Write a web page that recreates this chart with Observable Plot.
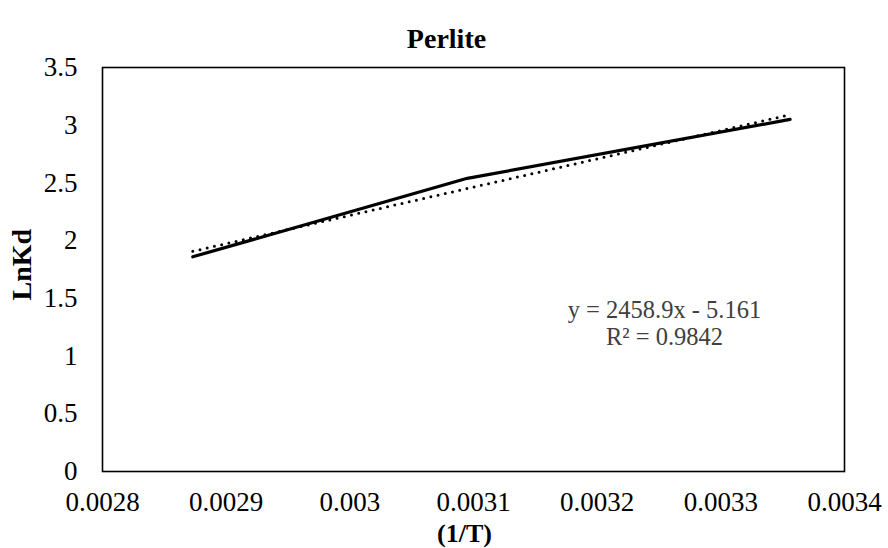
<!DOCTYPE html>
<html>
<head>
<meta charset="utf-8">
<script src="https://cdn.jsdelivr.net/npm/d3@7"></script>
<script src="https://cdn.jsdelivr.net/npm/@observablehq/plot@0.6"></script>
<style>
  html, body { margin: 0; padding: 0; background: #fff; }
</style>
</head>
<body>
<div id="chart"></div>
<script>
// Data
const invT = [0.002873, 0.003095, 0.003356];
const lnKd = [1.86, 2.54, 3.05];
const xTicks = [0.0028, 0.0029, 0.003, 0.0031, 0.0032, 0.0033, 0.0034];
const xTickLabels = ["0.0028", "0.0029", "0.003", "0.0031", "0.0032", "0.0033", "0.0034"];
const yTicks = [0, 0.5, 1, 1.5, 2, 2.5, 3, 3.5];
const yTickLabels = ["0", "0.5", "1", "1.5", "2", "2.5", "3", "3.5"];
const title = "Perlite";
const xLabel = "(1/T)";
const yLabel = "LnKd";
const eqLines = ["y = 2458.9x - 5.161", "R² = 0.9842"];

const data = invT.map((x, i) => ({x, y: lnKd[i]}));

const chart = Plot.plot({
  width: 888,
  height: 548,
  marginLeft: 102,
  marginRight: 44,
  marginTop: 67,
  marginBottom: 77,
  style: {fontFamily: "'Liberation Serif', 'Times New Roman', serif", fontSize: "27px", color: "#000", background: "#fff"},
  x: {domain: [0.0028, 0.0034]},
  y: {domain: [0, 3.5]},
  marks: [
    Plot.axisX({ticks: xTicks, tickSize: 0, tickPadding: 20, tickFormat: (d, i) => xTickLabels[i], label: null, fontSize: 27}),
    Plot.axisY({ticks: yTicks, tickSize: 0, tickPadding: 25, tickFormat: (d, i) => yTickLabels[i], label: null, fontSize: 27}),
    Plot.frame({stroke: "#000", strokeWidth: 1.6}),
    Plot.linearRegressionY(data, {x: "x", y: "y", ci: 0, stroke: "#000", strokeWidth: 3, strokeDasharray: "0 7.4", strokeLinecap: "round"}),
    Plot.line(data, {x: "x", y: "y", stroke: "#000", strokeWidth: 3.2, strokeLinejoin: "round"}),
    Plot.text([title], {frameAnchor: "top", dx: -27, dy: -39, fontWeight: "bold", fontSize: 28}),
    Plot.text([xLabel], {frameAnchor: "bottom", dx: -9, dy: 70, fontWeight: "bold", fontSize: 26}),
    Plot.text([yLabel], {frameAnchor: "left", dx: -80, dy: 31, rotate: -90, fontWeight: "bold", fontSize: 28}),
    Plot.text(eqLines, {x: () => 0.0032544, y: (d, i) => 1.395 - i * 0.234, fill: "#404040", fontSize: 24.5})
  ]
});
document.getElementById("chart").appendChild(chart);
</script>
</body>
</html>
